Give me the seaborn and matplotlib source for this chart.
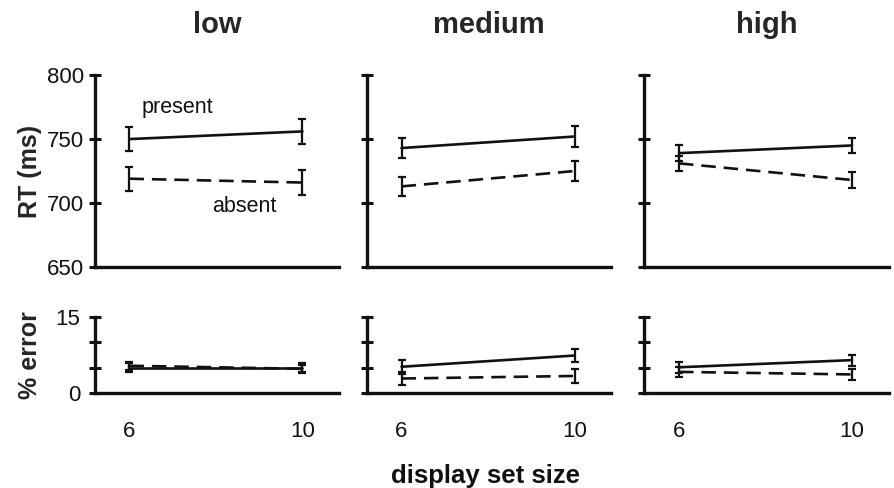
import pandas as pd
import matplotlib.pyplot as plt
import seaborn as sns

sns.set_style('white')
plt.rcParams['font.family'] = ['Liberation Sans', 'DejaVu Sans']

# Data
conditions = ['low', 'medium', 'high']
set_sizes = [6, 10]

rt_present = {'low': [750, 756], 'medium': [743, 752], 'high': [739, 745]}
rt_present_err = {'low': [9.5, 9.5], 'medium': [8, 8], 'high': [6, 6]}
rt_absent = {'low': [719, 716], 'medium': [713, 725], 'high': [731, 718]}
rt_absent_err = {'low': [9.5, 9.5], 'medium': [7.5, 8], 'high': [6, 6]}

err_present = {'low': [5.0, 5.0], 'medium': [5.2, 7.4], 'high': [5.1, 6.5]}
err_present_err = {'low': [0.9, 0.9], 'medium': [1.4, 1.3], 'high': [1.1, 1.1]}
err_absent = {'low': [5.4, 4.8], 'medium': [2.9, 3.4], 'high': [4.2, 3.7]}
err_absent_err = {'low': [0.8, 0.8], 'medium': [1.3, 1.3], 'high': [1.0, 1.0]}

rows = []
for c in conditions:
    for i, s in enumerate(set_sizes):
        rows.append(dict(cond=c, size=s, target='present', rt=rt_present[c][i],
                         rt_se=rt_present_err[c][i], err=err_present[c][i], err_se=err_present_err[c][i]))
        rows.append(dict(cond=c, size=s, target='absent', rt=rt_absent[c][i],
                         rt_se=rt_absent_err[c][i], err=err_absent[c][i], err_se=err_absent_err[c][i]))
df = pd.DataFrame(rows)

fig = plt.figure(figsize=(8.95, 4.88), dpi=100)
lefts = [0.106, 0.410, 0.720]
width = 0.273
top_axes = [fig.add_axes([l, 0.453, width, 0.393]) for l in lefts]
bot_axes = [fig.add_axes([l, 0.194, width, 0.157]) for l in lefts]

dash_styles = {'present': '', 'absent': (5.5, 3)}
ink = '#111111'


def draw(ax, sub, col, se_col, ylim, yticks):
    sns.lineplot(data=sub, x='size', y=col, style='target', style_order=['present', 'absent'],
                 dashes=dash_styles, color=ink, linewidth=1.9, errorbar=None,
                 legend=False, ax=ax)
    for t in ['present', 'absent']:
        d = sub[sub['target'] == t]
        ax.errorbar(d['size'], d[col], yerr=d[se_col], fmt='none', ecolor=ink,
                    elinewidth=1.6, capsize=3, capthick=1.6)
    ax.set_xlim(5.2, 10.85)
    ax.set_ylim(*ylim)
    ax.set_yticks(yticks)
    ax.set_xlabel('')
    ax.set_ylabel('')
    sns.despine(ax=ax)
    for sp in ['left', 'bottom']:
        ax.spines[sp].set_linewidth(2.4)
        ax.spines[sp].set_color(ink)
    ax.tick_params(axis='y', left=True, direction='inout', length=9, width=2.2, colors=ink,
                   labelsize=16, pad=3)
    ax.tick_params(axis='x', bottom=False, length=0, labelsize=16, colors=ink, pad=20)
    ax.set_xticks(set_sizes)
    ax.patch.set_alpha(0)


for j, c in enumerate(conditions):
    sub = df[df['cond'] == c]
    ax = top_axes[j]
    draw(ax, sub, 'rt', 'rt_se', (650, 800), [650, 700, 750, 800])
    ax.set_xticklabels([])
    ax.set_title(c, fontsize=21, fontweight='bold', pad=30)

    ax2 = bot_axes[j]
    draw(ax2, sub, 'err', 'err_se', (0, 15), [0, 5, 10, 15])
    if j == 0:
        ax.set_ylabel('RT (ms)', fontsize=18, fontweight='bold', labelpad=4)
        ax2.set_yticks([0, 5, 10, 15], ['0', '', '', '15'])
        ax2.tick_params(axis='y', pad=6)
        ax2.set_ylabel('% error', fontsize=18, fontweight='bold', labelpad=10)
    else:
        ax.set_yticklabels([])
        ax2.set_yticklabels([])

top_axes[0].text(7.1, 775, 'present', fontsize=15.5, ha='center', va='center', color=ink)
top_axes[0].text(8.66, 697, 'absent', fontsize=15.5, ha='center', va='center', color=ink)

fig.text(0.543, 0.0, 'display set size', fontsize=18.5, fontweight='bold',
         ha='center', va='bottom', color=ink)

plt.savefig('out.png', dpi=100)
plt.close()
